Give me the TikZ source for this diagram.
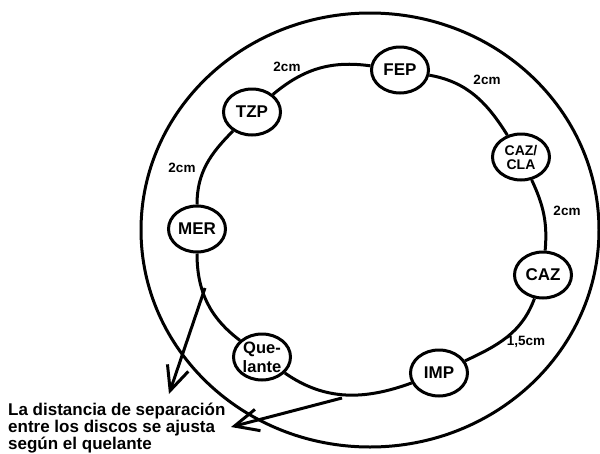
\documentclass[tikz,border=0pt]{standalone}
\usepackage{fontspec}
\setmainfont{Liberation Sans}
\usetikzlibrary{shapes.geometric,arrows.meta}
\tikzset{
  disc/.style={ellipse, draw, line width=3pt, fill=white, minimum width=57pt,
    minimum height=46pt, inner sep=0pt, align=center,
    font=\bfseries\fontsize{17}{19}\selectfont},
  ring/.style={line width=3pt},
  dist/.style={font=\bfseries\fontsize{13.5}{15}\selectfont, inner sep=0pt},
  pointer/.style={line width=3pt, -{Straight Barb[length=24pt,width=22pt]}},
  note/.style={font=\bfseries\fontsize{17}{17}\selectfont, align=left, inner sep=0pt}
}
\begin{document}
\begin{tikzpicture}[x=1pt,y=1pt]
\useasboundingbox (0,0) rectangle (600,-453);
% plate
\draw[ring] (370,-230) ellipse [x radius=229, y radius=217];
% discs
\node[disc] (FEP) at (400,-70) {FEP};
\node[disc] (TZP) at (252,-112) {TZP};
\node[disc] (MER) at (197,-229) {MER};
\node[disc, font=\bfseries\fontsize{16.5}{19}\selectfont] (QUE) at (262,-357) {Que-\\lante};
\node[disc] (IMP) at (439,-373) {IMP};
\node[disc] (CAZ) at (543,-275) {CAZ};
\node[disc, font=\bfseries\fontsize{14}{14}\selectfont] (CC) at (521,-157) {CAZ/\\CLA};
% ring connectors
\draw[ring] (FEP) to[out=172, in=40] (TZP);
\draw[ring] (TZP) to[out=225, in=90] (MER);
\draw[ring] (MER) to[out=270, in=143] (QUE);
\draw[ring] (QUE) to[out=325, in=200] (IMP);
\draw[ring] (IMP) to[out=25, in=250] (CAZ);
\draw[ring] (CAZ) to[out=85, in=295] (CC);
\draw[ring] (CC) to[out=122, in=350] (FEP);
% distance labels
\node[dist] (d1) at (287,-67) {2cm};
\node[dist] (d2) at (487,-80) {2cm};
\node[dist] (d3) at (182,-168) {2cm};
\node[dist] (d4) at (567,-211) {2cm};
\node[dist] (d5) at (526,-342) {1,5cm};
% note
\node[note, anchor=base west] (txt) at (8,-449) {La distancia de separación\\entre los discos se ajusta\\según el quelante};
\coordinate (a1s) at (205,-288);
\coordinate (a1e) at (169,-394);
\coordinate (a2s) at (342,-398);
\coordinate (a2e) at (231,-427);
\draw[pointer] (a1s) -- (a1e);
\draw[pointer] (a2s) -- (a2e);
\end{tikzpicture}
\end{document}
